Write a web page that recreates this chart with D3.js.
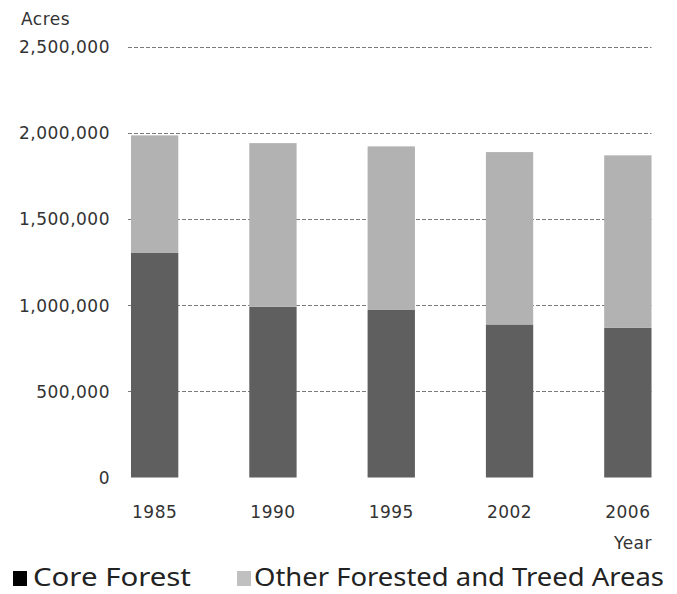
<!DOCTYPE html>
<html>
<head>
<meta charset="utf-8">
<script src="https://cdn.jsdelivr.net/npm/d3@7"></script>
<style>
  html, body { margin: 0; padding: 0; background: #fff; }
  svg { display: block; }
  .tick-label { font-family: "DejaVu Sans", Verdana, sans-serif; font-size: 17px; letter-spacing: 0.5px; fill: #333; }
  .legend-label { font-family: "Noto Sans", "Open Sans", sans-serif; font-size: 25px; fill: #222; }
</style>
</head>
<body>
<script>
// ---- data ----
const years = ["1985", "1990", "1995", "2002", "2006"];
const coreForest = [1305000, 990000, 972000, 888000, 868000];
const otherForested = [680000, 950000, 949000, 1000000, 1001000];
const yTicks = [0, 500000, 1000000, 1500000, 2000000, 2500000];
const seriesNames = ["Core Forest", "Other Forested and Treed Areas"];
const yAxisTitle = "Acres";
const xAxisTitle = "Year";

// ---- layout ----
const W = 677, H = 594;
const svg = d3.select("body").append("svg").attr("width", W).attr("height", H);

const x = d3.scaleBand().domain(years).range([95.5, 687]).paddingInner(0.6).paddingOuter(0.3);
const y = d3.scaleLinear().domain([0, 2500000]).range([477.5, 46.6]);

const rows = years.map((yr, i) => ({ year: yr, core: coreForest[i], other: otherForested[i] }));
const stacked = d3.stack().keys(["core", "other"])(rows);
const colors = { core: "#5f5f5f", other: "#b2b2b2" };
const legendColors = ["#000000", "#c0c0c0"];

// gridlines (behind bars)
svg.append("g").selectAll("line")
  .data(yTicks.filter(d => d > 0))
  .join("line")
  .attr("x1", 128).attr("x2", x(years[years.length - 1]) + x.bandwidth())
  .attr("y1", d => Math.round(y(d)) + 0.5).attr("y2", d => Math.round(y(d)) + 0.5)
  .attr("stroke", "#7a7a7a").attr("stroke-width", 1)
  .attr("stroke-dasharray", "4,2");

// bars
svg.append("g").selectAll("g")
  .data(stacked)
  .join("g")
  .attr("fill", d => colors[d.key])
  .selectAll("rect")
  .data(d => d)
  .join("rect")
  .attr("x", d => x(d.data.year))
  .attr("width", x.bandwidth())
  .attr("y", d => y(d[1]))
  .attr("height", d => y(d[0]) - y(d[1]));

// y axis
const yAxis = d3.axisLeft(y).tickValues(yTicks).tickSize(0).tickPadding(0)
  .tickFormat(d3.format(","));
const yg = svg.append("g").attr("transform", "translate(110,0)").call(yAxis);
yg.select(".domain").remove();
yg.selectAll("text").attr("class", "tick-label").attr("dy", "0.35em");

// x axis
const xAxis = d3.axisBottom(x).tickSize(0).tickPadding(0);
const xg = svg.append("g").attr("transform", "translate(0,504)").call(xAxis);
xg.select(".domain").remove();
xg.selectAll("text").attr("class", "tick-label").attr("dy", "0.85em");

// axis titles
svg.append("text").attr("class", "tick-label").attr("x", 21).attr("y", 25).text(yAxisTitle);
svg.append("text").attr("class", "tick-label").attr("x", 652).attr("y", 549)
  .attr("text-anchor", "end").text(xAxisTitle);

// legend
const legendItems = [
  { name: seriesNames[0], sx: 13, tx: 33, tw: 158 },
  { name: seriesNames[1], sx: 237, tx: 254, tw: 410 }
];
const lg = svg.append("g");
legendItems.forEach((it, i) => {
  lg.append("rect").attr("x", it.sx).attr("y", 571).attr("width", 14).attr("height", 15)
    .attr("fill", legendColors[i]);
  lg.append("text").attr("class", "legend-label").attr("x", it.tx).attr("y", 586)
    .attr("textLength", it.tw).attr("lengthAdjust", "spacingAndGlyphs").text(it.name);
});
</script>
</body>
</html>
